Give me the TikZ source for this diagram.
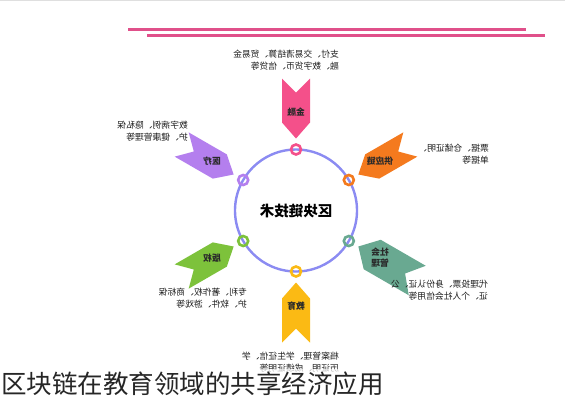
\documentclass[tikz,border=0pt]{standalone}
\usepackage{fontspec}
\usepackage{graphicx}
\setmainfont{Noto Sans CJK SC}
\usetikzlibrary{calc}
\definecolor{pinkC}{HTML}{F4508A}
\definecolor{orangeC}{HTML}{F47A1E}
\definecolor{tealC}{HTML}{69A991}
\definecolor{greenC}{HTML}{7DC23B}
\definecolor{yellowC}{HTML}{FBBA14}
\definecolor{purpleC}{HTML}{B47FEE}
\definecolor{circC}{HTML}{8B8BF2}
\definecolor{lineC}{HTML}{E0508A}
\definecolor{descC}{HTML}{1E1E1E}
\definecolor{lblC}{HTML}{2A2A2A}
\newcommand\mirtext[1]{\reflectbox{\begin{tabular}{@{}l@{}}#1\end{tabular}}}
\tikzset{
  desc/.style={inner sep=0pt, anchor=north east, text=descC, font=\fontsize{8.8}{12}\selectfont},
  lbl/.style={inner sep=0pt, text=lblC, font=\fontsize{8.8}{10}\selectfont\bfseries},
  ringnode/.style={circle, draw=#1, line width=2.6pt, minimum size=10pt, inner sep=0pt},
  topline/.style={draw=lineC, line width=3pt},
}
% angle, colour, outer length, half width, label, name
\newcommand\chevron[6]{%
  \begin{scope}[shift={(C)}, rotate=#1]
    \fill[#2] (72,0) -- (88,#4) -- (#3,#4) -- ({#3-14},0) -- (#3,-#4) -- (88,-#4) -- cycle;
    \node[lbl] (lab#6) at (97,0) {\mirtext{#5}};
    \node[ringnode=#2] (ring#6) at (61,0) {};
  \end{scope}}
\begin{document}
\begin{tikzpicture}[x=1pt,y=-1pt]
\useasboundingbox (0,0) rectangle (565,400);
\fill[white] (0,0) rectangle (565,400);
\draw[gray!25, line width=1pt] (0,0.5) -- (565,0.5);
\draw[topline] (128,29) -- (526,29);
\draw[topline] (147,35) -- (545,35);
\coordinate (C) at (296,210.5);
\draw[circC, line width=2.4pt] (C) circle[radius=61];
\node[font=\fontsize{14.5}{16}\selectfont\bfseries, text=black] (center) at (C) {\reflectbox{区块链技术}};
\chevron{90}{pinkC}{132}{14}{金融}{a}
\chevron{30}{orangeC}{132}{14}{供应链}{b}
\chevron{-30}{tealC}{140}{17}{社会\\管理}{c}
\chevron{-90}{yellowC}{132}{14}{教育}{d}
\chevron{-150}{greenC}{132}{14}{版权}{e}
\chevron{150}{purpleC}{132}{14}{医疗}{f}
\node[desc] (ta) at (339,49) {\mirtext{支付、交易清结算、贸易金\\融、数字货币、信贷等}};
\node[desc] (tb) at (489,143) {\mirtext{票据、仓储证明、\\单据等}};
\node[desc] (tc) at (488,279) {\mirtext{代理投票、身份认证、公\\证、个人社会信用等}};
\node[desc] (td) at (339,351) {\mirtext{档案管理、学生征信、学\\历证明、成绩证明等}};
\node[desc] (te) at (247,287) {\mirtext{专利、著作权、商标保\\护、软件、游戏等}};
\node[desc] (tf) at (188,120) {\mirtext{数字病例、隐私保\\护、健康管理等}};
\node[anchor=west, fill=white, fill opacity=0.7, text opacity=1, inner xsep=1pt, inner ysep=3pt,
  text=black!85, font=\fontsize{25.5}{28}\selectfont] (title) at (0,384) {区块链在教育领域的共享经济应用};
\end{tikzpicture}
\end{document}
